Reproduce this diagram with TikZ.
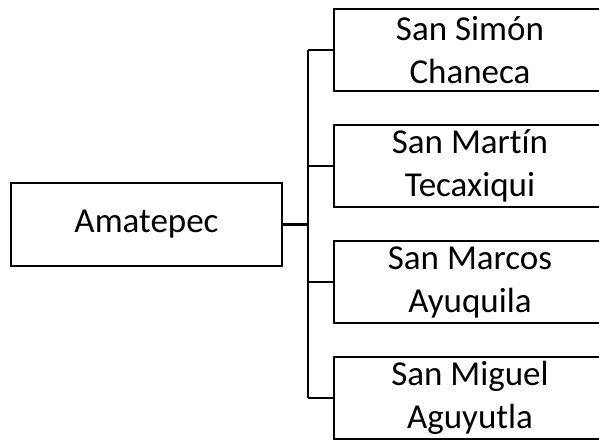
\documentclass[tikz,border=0pt]{standalone}
\usepackage{fontspec}
\setmainfont{Carlito}[Ligatures={NoCommon}]
\begin{document}
\begin{tikzpicture}[x=1pt,y=-1pt,
  box/.style={draw=black,line width=2.4pt,fill=white,rectangle,minimum width=272pt,minimum height=82pt,align=center,inner sep=0pt,font=\fontsize{35}{43}\selectfont},
  conn/.style={draw=black,line width=2.4pt}]
\useasboundingbox (0,0) rectangle (599,440);
\begin{scope}
\clip (0,0) rectangle (599,440);
\coordinate (t) at (308,50);
\coordinate (bt) at (308,398);
\draw[conn] (t) -- (bt);
\node[box,minimum width=271pt,minimum height=83pt] (a) at (146.5,224.5) {Amatepec};
\node[box] (b1) at (470,50) {San Simón\\Chaneca};
\node[box] (b2) at (470,166) {San Martín\\Tecaxiqui};
\node[box] (b3) at (470,282) {San Marcos\\Ayuquila};
\node[box] (b4) at (470,398) {San Miguel\\Aguyutla};
\draw[conn] (a.east) -- (a.east -| t);
\draw[conn] (b1.west) -- (b1.west -| t);
\draw[conn] (b2.west) -- (b2.west -| t);
\draw[conn] (b3.west) -- (b3.west -| t);
\draw[conn] (b4.west) -- (b4.west -| t);
\end{scope}
\end{tikzpicture}
\end{document}
